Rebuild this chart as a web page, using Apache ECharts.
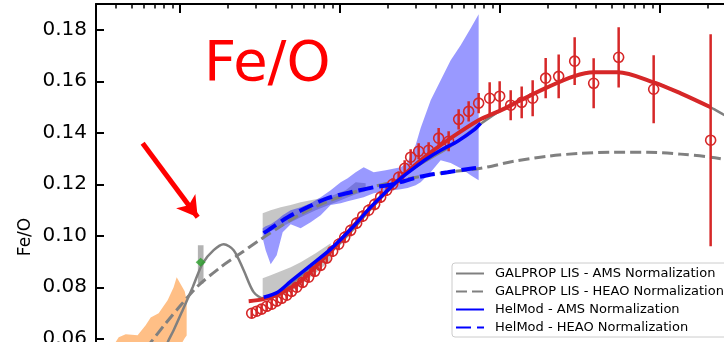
<!DOCTYPE html>
<html>
<head>
<meta charset="utf-8">
<script src="https://cdn.jsdelivr.net/npm/echarts@6/dist/echarts.min.js"></script>
<style>
  html, body { margin: 0; padding: 0; background: #fff; }
  #chart { width: 724px; height: 342px; }
</style>
</head>
<body>
<div id="chart"></div>
<script>
// Fe/O ratio versus rigidity (GV), log axis

// AMS-02 data: rigidity, Fe/O, uncertainty
const amsR = [2.82, 3.03, 3.25, 3.50, 3.76, 4.04, 4.34, 4.67, 5.01, 5.39, 5.87, 6.40, 6.98, 7.61, 8.30, 9.04, 9.86, 10.75, 11.72, 12.77, 13.93, 15.18, 16.55, 18.04, 19.67, 21.44, 23.38, 25.49, 27.78, 31.17, 35.99, 41.57, 48.00, 55.43, 64.01, 73.91, 86.6, 100, 117.2, 137.3, 160.8, 193.9, 233.8, 294.3, 386.8, 554.3, 917.3, 2083];
const amsFeO = [0.0699, 0.0707, 0.0715, 0.0726, 0.0734, 0.0746, 0.0757, 0.0769, 0.0784, 0.0800, 0.0819, 0.0839, 0.0862, 0.0885, 0.0913, 0.0940, 0.0967, 0.0994, 0.1021, 0.1049, 0.1076, 0.1099, 0.1122, 0.1150, 0.1177, 0.1200, 0.1227, 0.1262, 0.1305, 0.1328, 0.1332, 0.1379, 0.1367, 0.1452, 0.1483, 0.1515, 0.1534, 0.1542, 0.1507, 0.1518, 0.1534, 0.1612, 0.1619, 0.1678, 0.1592, 0.1693, 0.1569, 0.1371];
const amsErr = [0.0019, 0.0019, 0.0019, 0.0019, 0.0019, 0.0019, 0.0019, 0.0019, 0.0019, 0.0019, 0.0019, 0.0019, 0.0019, 0.0019, 0.0019, 0.0023, 0.0023, 0.0023, 0.0023, 0.0023, 0.0023, 0.0023, 0.0023, 0.0023, 0.0023, 0.0023, 0.0023, 0.0031, 0.0031, 0.0031, 0.0031, 0.0039, 0.0039, 0.0039, 0.0039, 0.0039, 0.0062, 0.0058, 0.0058, 0.0062, 0.0070, 0.0078, 0.0085, 0.0093, 0.0097, 0.0117, 0.0132, 0.0412];

// Fit through the AMS-02 points
const fitR = [2.70, 3.35, 4.28, 5.70, 8.79, 13.53, 20.84, 32.08, 49.42, 73.91, 101.5, 135.3, 199.5, 290.1, 386.8, 546.5, 917.3, 1353, 2083];
const fitFeO = [0.0746, 0.0754, 0.0777, 0.0823, 0.0940, 0.1068, 0.1188, 0.1293, 0.1379, 0.1449, 0.1487, 0.1526, 0.1577, 0.1619, 0.1635, 0.1635, 0.1596, 0.1553, 0.1499];

// GALPROP LIS, AMS normalization
const galAmsR = [0.761, 0.841, 0.917, 1.044, 1.206, 1.393, 1.631, 1.884, 2.175, 2.512, 2.901, 3.350, 4.097, 4.940, 6.589, 8.786, 11.72, 15.63, 20.84, 27.79, 37.06, 49.42, 73.91, 101.5, 135.3, 199.5, 290.1, 386.8, 546.5, 917.3, 1353, 2083, 2549, 3209];
const galAmsFeO = [0.0509, 0.0586, 0.0633, 0.0711, 0.0800, 0.0893, 0.0944, 0.0967, 0.0944, 0.0866, 0.0781, 0.0757, 0.0769, 0.0812, 0.0874, 0.0936, 0.1014, 0.1103, 0.1185, 0.1254, 0.1301, 0.1348, 0.1429, 0.1487, 0.1526, 0.1577, 0.1619, 0.1635, 0.1635, 0.1596, 0.1553, 0.1499, 0.1468, 0.1433];

// GALPROP LIS, HEAO normalization
const galHeaoR = [0.531, 0.659, 0.818, 1.015, 1.295, 1.804, 2.406, 3.208, 4.097, 5.703, 8.786, 13.53, 24.06, 42.79, 76.08, 122.3, 199.5, 320.8, 515.9, 841.4, 1353, 2083, 3209];
const galHeaoFeO = [0.0517, 0.0586, 0.0660, 0.0730, 0.0804, 0.0878, 0.0932, 0.0986, 0.1029, 0.1084, 0.1138, 0.1177, 0.1216, 0.1243, 0.1262, 0.1289, 0.1309, 0.1320, 0.1324, 0.1324, 0.1317, 0.1305, 0.1286];

// HelMod, AMS normalization
const helAmsR = [3.350, 4.097, 4.940, 6.589, 8.786, 11.72, 15.63, 19.94, 24.06, 29.01, 35.48, 42.79, 54.64, 68.77, 76.08];
const helAmsFeO = [0.0761, 0.0781, 0.0823, 0.0885, 0.0948, 0.1025, 0.1111, 0.1177, 0.1223, 0.1262, 0.1301, 0.1332, 0.1367, 0.1410, 0.1437];

// HelMod, HEAO normalization
const helHeaoR = [3.350, 3.705, 4.732, 6.310, 8.414, 11.72, 16.31, 19.94, 24.06, 29.01, 35.48, 47.32, 68.77, 76.08];
const helHeaoFeO = [0.1010, 0.1028, 0.1072, 0.1111, 0.1146, 0.1169, 0.1188, 0.1196, 0.1208, 0.1223, 0.1235, 0.1247, 0.1262, 0.1266];

// HelMod uncertainty band
const helBandR = [3.302, 3.447, 3.705, 4.040, 4.404, 4.940, 5.703, 6.589, 7.609, 8.786, 10.15, 11.22, 12.59, 14.13, 16.31, 19.39, 24.06, 26.61, 29.85, 32.08, 37.06, 42.79, 49.42, 57.05, 65.89, 73.91];
const helBandLo = [0.0990, 0.0944, 0.0889, 0.0924, 0.1014, 0.1045, 0.1029, 0.1052, 0.1080, 0.1119, 0.1126, 0.1134, 0.1142, 0.1150, 0.1165, 0.1173, 0.1181, 0.1185, 0.1196, 0.1208, 0.1247, 0.1293, 0.1283, 0.1262, 0.1235, 0.1216];
const helBandHi = [0.1029, 0.1037, 0.1045, 0.1060, 0.1080, 0.1099, 0.1111, 0.1126, 0.1150, 0.1177, 0.1208, 0.1223, 0.1247, 0.1266, 0.1247, 0.1254, 0.1266, 0.1286, 0.1352, 0.1418, 0.1526, 0.1604, 0.1682, 0.1740, 0.1806, 0.1860];

// GALPROP uncertainty bands (HEAO and AMS normalizations)
const galBandR = [3.302, 3.705, 4.279, 4.940, 5.703, 7.079, 8.786, 10.90, 12.59, 14.54];
const galHeaoBandLo = [0.1010, 0.1018, 0.1033, 0.1052, 0.1072, 0.1099, 0.1122, 0.1146, 0.1161, 0.1173];
const galHeaoBandHi = [0.1087, 0.1099, 0.1111, 0.1119, 0.1130, 0.1142, 0.1153, 0.1177, 0.1208, 0.1204];
const galAmsBandR = [3.302, 3.705, 4.279, 4.940, 5.703, 7.079, 8.786];
const galAmsBandLo = [0.0750, 0.0753, 0.0765, 0.0784, 0.0808, 0.0855, 0.0905];
const galAmsBandHi = [0.0835, 0.0847, 0.0862, 0.0878, 0.0897, 0.0932, 0.0971];

// Low-energy band
const voyR = [0.387, 0.416, 0.460, 0.546, 0.613, 0.659, 0.739, 0.841, 0.917, 0.958, 1.015, 1.075, 1.106];
const voyLo = [0.0517, 0.0517, 0.0517, 0.0517, 0.0517, 0.0517, 0.0517, 0.0517, 0.0517, 0.0517, 0.0575, 0.0602, 0.0613];
const voyHi = [0.0575, 0.0606, 0.0617, 0.0614, 0.0652, 0.0683, 0.0699, 0.0750, 0.0800, 0.0839, 0.0812, 0.0784, 0.0750];

// Single low-rigidity point and its range
const lowPoint = [[1.353, 0.0897]];
const lowBandR = [1.30, 1.41];
const lowBandLo = [0.0815, 0.0815];
const lowBandHi = [0.0963, 0.0963];

// Arrow pointing to the low-rigidity point
const arrowFrom = [0.587, 0.1359];
const arrowTo = [1.296, 0.1072];

// Axis ticks
const yTicks = [0.04, 0.06, 0.08, 0.10, 0.12, 0.14, 0.16, 0.18];
const xMajorTicks = [1, 10, 100, 1000];
const xMinorTicks = [0.4, 0.5, 0.6, 0.7, 0.8, 0.9, 2, 3, 4, 5, 6, 7, 8, 9, 20, 30, 40, 50, 60, 70, 80, 90, 200, 300, 400, 500, 600, 700, 800, 900, 2000];

const legendNames = ['GALPROP LIS - AMS Normalization', 'GALPROP LIS - HEAO Normalization', 'HelMod - AMS Normalization', 'HelMod - HEAO Normalization'];

const FONT = 'DejaVu Sans';
const RED = '#d62728';
const pairs = (xs, ys) => xs.map((x, i) => [x, ys[i]]);

function band(name, xs, lo, hi, color, z) {
  return {
    type: 'custom', name: name, z: z, silent: true, clip: true,
    data: xs.map((x, i) => [x, lo[i], hi[i]]),
    encode: { x: 0, y: [1, 2] },
    renderItem: function (params, api) {
      if (params.dataIndex !== 0) return null;
      const top = xs.map((x, i) => api.coord([x, hi[i]]));
      const bot = xs.map((x, i) => api.coord([x, lo[i]])).reverse();
      return { type: 'polygon', shape: { points: top.concat(bot) }, style: { fill: color } };
    }
  };
}

const chart = echarts.init(document.getElementById('chart'), null, { renderer: 'canvas' });

const xBase = {
  type: 'log', logBase: 10, min: 0.3, max: 3000, position: 'top', gridIndex: 0,
  axisLabel: { show: false }, splitLine: { show: false }
};

chart.setOption({
  animation: false,
  backgroundColor: '#ffffff',
  textStyle: { fontFamily: FONT },
  grid: { left: 96, top: 4, width: 640, height: 386.25, outerBoundsMode: 'none', containLabel: false },
  xAxis: [
    Object.assign({}, xBase, {
      axisLine: { show: true, lineStyle: { color: '#000', width: 2 } },
      axisTick: { show: true, inside: true, length: 9, lineStyle: { color: '#000', width: 2 }, customValues: xMajorTicks }
    }),
    Object.assign({}, xBase, {
      axisLine: { show: false },
      axisTick: { show: true, inside: true, length: 4.5, lineStyle: { color: '#000', width: 1.5 }, customValues: xMinorTicks }
    })
  ],
  yAxis: {
    type: 'value', min: 0.04, max: 0.19, interval: 0.02,
    axisLine: { show: true, lineStyle: { color: '#000', width: 2 } },
    axisTick: { show: true, inside: true, length: 8, lineStyle: { color: '#000', width: 2 }, customValues: yTicks },
    axisLabel: { show: true, customValues: yTicks, margin: 9, fontSize: 20, fontFamily: FONT, color: '#000', formatter: v => v.toFixed(2) },
    splitLine: { show: false }
  },
  legend: {
    data: legendNames,
    orient: 'vertical', left: 452, top: 263,
    itemWidth: 28, itemHeight: 14, itemGap: 5,
    padding: [4, 6, 3, 3],
    itemStyle: { opacity: 0 },
    backgroundColor: 'rgba(255,255,255,0.85)',
    borderColor: '#cccccc', borderWidth: 1, borderRadius: 3,
    textStyle: { fontFamily: FONT, fontSize: 13, color: '#000', padding: [0, 0, 0, 6] }
  },
  graphic: [
    { type: 'text', left: 204, top: 37, z: 100,
      style: { text: 'Fe/O', fill: '#ff0000', font: '56px "DejaVu Sans"' } },
    { type: 'text', x: 26, y: 237, rotation: Math.PI / 2, z: 100,
      style: { text: 'Fe/O', fill: '#000', font: '17px "DejaVu Sans"', align: 'center', verticalAlign: 'middle' } }
  ],
  series: [
    band('voyager', voyR, voyLo, voyHi, 'rgba(255,127,14,0.5)', 1),
    band('galprop-heao-band', galBandR, galHeaoBandLo, galHeaoBandHi, 'rgba(128,128,128,0.45)', 1),
    band('galprop-ams-band', galAmsBandR, galAmsBandLo, galAmsBandHi, 'rgba(128,128,128,0.45)', 1),
    band('helmod-band', helBandR, helBandLo, helBandHi, 'rgba(0,0,255,0.4)', 1),
    band('low-band', lowBandR, lowBandLo, lowBandHi, 'rgba(128,128,128,0.6)', 1),
    {
      name: legendNames[0], type: 'line', z: 2, symbol: 'none', smooth: 0.3,
      lineStyle: { color: '#808080', width: 2.5 }, itemStyle: { color: '#808080' },
      data: pairs(galAmsR, galAmsFeO)
    },
    {
      name: legendNames[1], type: 'line', z: 2, symbol: 'none', smooth: 0.3,
      lineStyle: { color: '#808080', width: 3, type: [11, 5] }, itemStyle: { color: '#808080' },
      data: pairs(galHeaoR, galHeaoFeO)
    },
    {
      name: 'fit', type: 'line', z: 3, symbol: 'none', smooth: 0.3,
      lineStyle: { color: RED, width: 4 },
      data: pairs(fitR, fitFeO)
    },
    {
      name: 'AMS-02', type: 'custom', z: 4, clip: true,
      data: amsR.map((r, i) => [r, amsFeO[i], amsErr[i]]),
      encode: { x: 0, y: 1 },
      renderItem: function (params, api) {
        const r = api.value(0), v = api.value(1), e = api.value(2);
        const c = api.coord([r, v]);
        const a = api.coord([r, v - e]);
        const b = api.coord([r, v + e]);
        return {
          type: 'group', children: [
            { type: 'line', shape: { x1: a[0], y1: a[1], x2: b[0], y2: b[1] }, style: { stroke: RED, lineWidth: 2.5 } },
            { type: 'circle', shape: { cx: c[0], cy: c[1], r: 5 }, style: { fill: 'none', stroke: RED, lineWidth: 1.6 } }
          ]
        };
      }
    },
    {
      name: legendNames[2], type: 'line', z: 5, symbol: 'none', smooth: 0.3,
      lineStyle: { color: '#0000ff', width: 3.5 }, itemStyle: { color: '#0000ff' },
      data: pairs(helAmsR, helAmsFeO)
    },
    {
      name: legendNames[3], type: 'line', z: 5, symbol: 'none', smooth: 0.3,
      lineStyle: { color: '#0000ff', width: 4, type: [15, 6] }, itemStyle: { color: '#0000ff' },
      data: pairs(helHeaoR, helHeaoFeO)
    },
    {
      name: 'low point', type: 'scatter', z: 6, symbol: 'diamond', symbolSize: [10, 9],
      itemStyle: { color: '#2ca02c' },
      data: lowPoint,
      markLine: {
        silent: true, symbol: ['none', 'arrow'], symbolSize: [18, 20],
        label: { show: false },
        lineStyle: { color: '#ff0000', width: 5, type: 'solid' },
        data: [[{ coord: arrowFrom }, { coord: arrowTo }]]
      }
    }
  ]
});
</script>
</body>
</html>
